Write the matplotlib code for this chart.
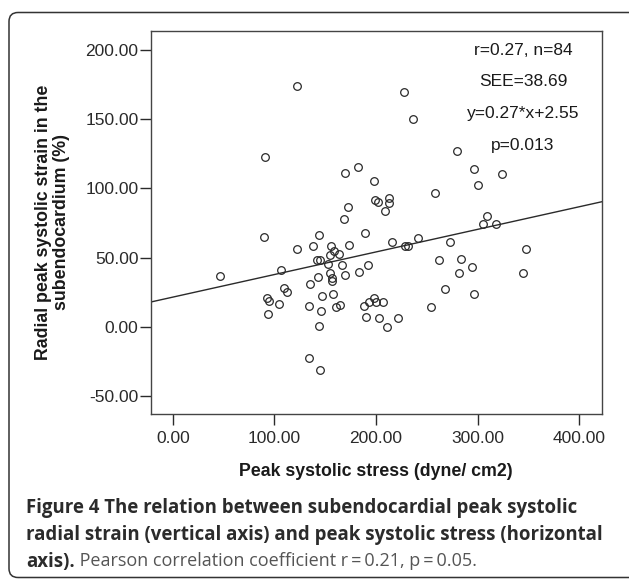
import numpy as np
import matplotlib.pyplot as plt
from matplotlib.patches import FancyBboxPatch

# ── Data ──────────────────────────────────────────────────────────────────────
stress = [46.3, 90.2, 89.8, 92.6, 94.6, 93.4, 104.5, 106.8, 109.2, 112.4,
          122.3, 122.3, 137.7, 134.9, 134.2, 134.2, 144.0, 142.1, 144.4, 142.9,
          146.4, 146.0, 143.6, 145.2, 155.9, 158.3, 154.7, 163.4, 152.8, 155.1,
          157.1, 157.1, 157.5, 160.7, 165.0, 166.2, 168.6, 169.4, 172.1, 173.3,
          169.0, 182.4, 183.6, 189.2, 191.9, 188.0, 190.3, 193.5, 198.3, 198.7,
          202.2, 198.3, 199.8, 203.0, 207.0, 212.9, 212.9, 209.3, 210.5, 216.1,
          221.2, 227.9, 236.2, 228.7, 231.5, 241.0, 254.0, 257.6, 261.6, 267.9,
          273.0, 283.3, 281.4, 279.8, 294.8, 296.8, 296.4, 300.8, 309.1, 305.1,
          318.6, 324.1, 347.8, 344.7]
strain = [37.0, 122.5, 65.3, 20.6, 18.7, 9.4, 16.3, 41.5, 28.1, 25.4,
          173.8, 56.4, 58.3, 31.0, 15.5, -22.7, 66.6, 48.1, 48.7, 35.8,
          22.7, 11.8, 0.5, -31.3, 58.6, 55.1, 52.1, 52.7, 45.7, 39.0,
          35.3, 33.2, 24.1, 14.4, 16.0, 44.7, 77.8, 111.2, 86.9, 59.4,
          37.7, 115.5, 39.8, 67.9, 44.7, 15.0, 7.0, 18.4, 105.6, 91.4,
          90.4, 21.1, 17.9, 6.7, 18.4, 93.3, 89.3, 83.7, -0.3, 61.5,
          6.4, 169.5, 150.5, 58.8, 58.8, 64.2, 14.7, 96.5, 48.7, 27.3,
          61.2, 48.9, 39.0, 127.0, 43.6, 113.9, 24.1, 102.4, 80.5, 74.1,
          74.6, 110.2, 56.4, 39.3]

# fitted line as drawn in the figure
fit_slope = 0.163
fit_intercept = 21.6

x_ticks = [0, 100, 200, 300, 400]
y_ticks = [-50, 0, 50, 100, 150, 200]
stats_lines = ['r=0.27, n=84', 'SEE=38.69', 'y=0.27*x+2.55', 'p=0.013']

caption_1 = 'Figure 4 The relation between subendocardial peak systolic'
caption_2 = 'radial strain (vertical axis) and peak systolic stress (horizontal'
caption_3_bold = 'axis).'
caption_3_rest = ' Pearson correlation coefficient r\u2009=\u20090.21, p\u2009=\u20090.05.'

# ── Figure ────────────────────────────────────────────────────────────────────
W, H = 629, 579
FS = 12.5
fig = plt.figure(figsize=(W / 100, H / 100), dpi=100)
plt.rcParams['font.family'] = ['Liberation Sans', 'DejaVu Sans']

ax = fig.add_axes([151 / W, 1 - 414 / H, (602 - 151) / W, (414 - 31) / H])
ax.plot(stress, strain, 'o', mfc='none', mec='#2a2a2a', ms=5.5, mew=0.9)

xlim = (-21.6, 422.5)
xs = np.array(xlim)
ax.plot(xs, fit_slope * xs + fit_intercept, color='#2a2a2a', lw=1.0)

ax.set_xlim(xlim)
ax.set_ylim(-62.8, 213.7)
ax.set_xticks(x_ticks)
ax.set_yticks(y_ticks)
ax.set_xticklabels([f'{v:.2f}' for v in x_ticks])
ax.set_yticklabels([f'{v:.2f}' for v in y_ticks])
ax.tick_params(direction='out', length=8, width=1, colors='#2a2a2a',
               labelsize=FS, pad=1)
ax.tick_params(axis='x', pad=4)
for s in ax.spines.values():
    s.set_color('#444444')
    s.set_linewidth(1)

for i, line in enumerate(stats_lines):
    ax.text(0.825, 0.950 - i * 0.0828, line, transform=ax.transAxes,
            ha='center', va='center', fontsize=FS, color='#1a1a1a')

fig.text(52.5 / W, 1 - 222.5 / H,
         'Radial peak systolic strain in the\nsubendocardium (%)',
         rotation=90, ha='center', va='center', fontsize=12.8,
         fontweight='bold', linespacing=1.0, color='#1a1a1a')
fig.text(376 / W, 1 - 471 / H, 'Peak systolic stress (dyne/ cm2)',
         ha='center', va='center', fontsize=12.8, fontweight='bold',
         color='#1a1a1a')

# ── Caption ───────────────────────────────────────────────────────────────────
cap_kw = dict(family=['Open Sans', 'DejaVu Sans'], va='baseline')
fig.text(26 / W, 1 - 513 / H, caption_1, fontweight='bold', fontsize=13.4,
         color='#2b2b2b', **cap_kw)
fig.text(26 / W, 1 - 540 / H, caption_2, fontweight='bold', fontsize=13.4,
         color='#2b2b2b', **cap_kw)
t3 = fig.text(26 / W, 1 - 566.5 / H, caption_3_bold, fontweight='bold',
              fontsize=13.4, color='#2b2b2b', **cap_kw)
fig.canvas.draw()
bb = t3.get_window_extent()
fig.text(bb.x1 / W, 1 - 566.5 / H, caption_3_rest, fontsize=13.0,
         color='#555555', **cap_kw)

# rounded frame round the figure + caption
frame = FancyBboxPatch((9, 1.5), 660, H - 12.5 - 1.5,
                       boxstyle='round,pad=0,rounding_size=9',
                       transform=None, fill=False, edgecolor='#333333', lw=1.1)
fig.add_artist(frame)

fig.savefig('out.png', dpi=100)
